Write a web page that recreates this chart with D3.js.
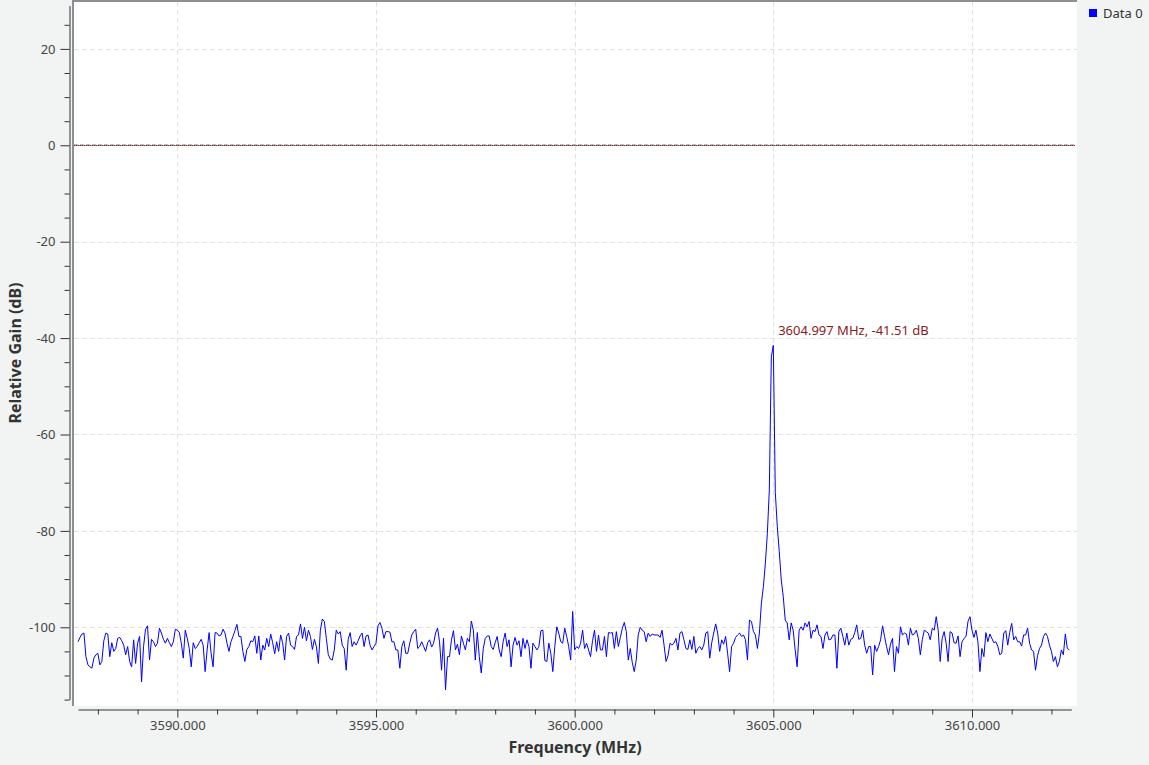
<!DOCTYPE html>
<html><head><meta charset="utf-8">
<script src="https://cdn.jsdelivr.net/npm/d3@7"></script>
<style>
html,body{margin:0;padding:0;background:#f2f4f3;}
svg{display:block;font-family:"Noto Sans","Open Sans",sans-serif;}
</style></head><body>
<svg id="c" width="1149" height="765"></svg>
<script>
// ---- data ----
const freqStart = 3587.5;   // MHz, first bin
const freqStep = 0.05;      // MHz per bin
const gains = [
-103.0,-102.1,-101.4,-101.2,-106.1,-107.8,-108.2,-108.5,-106.4,-105.7,
-105.4,-107.8,-107.1,-102.8,-101.2,-101.4,-106.1,-103.2,-105.0,-104.4,
-102.3,-102.1,-102.8,-103.7,-105.7,-104.0,-107.1,-108.2,-102.6,-107.5,
-103.3,-101.9,-111.3,-104.0,-100.4,-99.7,-106.8,-102.5,-103.0,-104.0,
-103.3,-100.2,-101.2,-102.5,-103.3,-102.3,-103.2,-104.0,-103.0,-100.4,
-100.6,-101.1,-103.3,-106.4,-100.6,-102.3,-104.4,-108.2,-103.2,-104.4,
-104.0,-103.2,-102.5,-103.7,-109.2,-104.7,-101.1,-105.4,-108.2,-101.1,
-101.2,-101.8,-101.6,-100.4,-101.2,-103.3,-105.0,-103.0,-101.9,-100.7,
-99.4,-101.9,-101.9,-105.0,-107.1,-104.6,-104.0,-102.8,-103.0,-101.8,
-105.4,-101.8,-106.8,-103.7,-104.7,-102.3,-104.0,-101.4,-103.2,-105.5,
-103.0,-105.0,-101.6,-103.2,-106.8,-101.9,-101.2,-103.7,-104.0,-104.6,
-101.9,-101.6,-99.3,-102.3,-100.0,-102.8,-100.6,-101.9,-104.6,-102.5,
-104.0,-107.5,-100.6,-98.3,-98.8,-102.3,-105.7,-106.6,-106.8,-104.7,
-100.6,-101.4,-100.9,-103.7,-104.4,-108.9,-102.5,-101.1,-104.0,-103.0,
-103.7,-102.8,-101.8,-101.2,-104.0,-101.8,-101.6,-103.7,-104.7,-104.0,
-103.3,-99.7,-99.0,-100.2,-102.3,-100.9,-100.9,-101.0,-103.0,-103.0,
-104.7,-104.7,-108.5,-104.0,-102.8,-105.4,
-105.4,-103.3,-101.6,-100.9,-100.4,-104.4,-104.0,-103.0,-104.0,-105.0,
-103.2,-102.6,-104.1,-103.3,-101.2,-100.2,-103.0,-108.9,-102.3,-113.0,
-106.1,-106.1,-102.6,-100.7,-104.7,-103.5,-105.7,-101.8,-103.3,-104.7,
-102.3,-103.0,-98.7,-100.6,-106.8,-101.1,-106.1,-109.5,-104.4,-102.3,
-101.8,-101.8,-104.0,-104.6,-103.2,-101.9,-104.7,-106.1,-103.0,-101.2,
-104.0,-102.6,-108.2,-103.7,-102.1,-103.7,-102.8,-106.1,-102.3,-104.4,
-102.6,-104.0,-108.5,-103.3,-104.0,-104.7,-104.0,-100.7,-100.6,-106.9,
-107.1,-103.3,-105.4,-109.2,-104.0,-99.9,-101.2,-103.0,-103.3,-100.2,
-101.9,-104.0,-106.8,-96.7,-104.7,-104.0,-104.4,-103.3,-100.6,-104.4,
-103.3,-104.7,-106.1,-102.8,-100.6,-105.0,-101.6,-104.7,-104.7,-101.9,
-106.1,-101.1,-101.2,-101.1,-104.4,-100.9,-104.0,-102.1,-100.2,-99.0,
-100.9,-106.8,-104.4,-107.3,-109.2,-106.8,-101.6,-100.0,-100.6,-100.9,
-103.0,-101.2,-101.9,-101.4,-101.6,-101.6,-101.6,-102.1,-100.6,-103.7,
-107.1,-105.9,-103.3,-103.7,-103.3,-102.3,-104.7,-101.2,-100.9,-102.6,
-104.4,-104.6,-102.6,-104.6,-101.9,-105.4,-104.4,-104.0,-104.7,-103.7,
-101.2,-100.9,-106.4,-103.2,-101.2,-99.3,-101.2,-105.0,-102.6,-103.5,
-101.9,-105.4,-109.2,-104.0,-103.3,-102.1,-101.6,
-101.2,-101.9,-101.6,-102.6,-106.8,-98.5,-98.8,-100.9,-101.6,-104.4,
-101.2,-95.0,-91.6,-86.7,-80.5,-71.5,-43.9,-41.51,-72.0,-79.1,
-84.3,-90.2,-93.6,-98.5,-99.1,-102.6,-99.1,-100.6,-104.7,-108.2,
-100.6,-99.9,-100.6,-99.1,-99.9,
-98.8,-102.3,-100.6,-100.9,-99.5,-101.6,-101.9,-104.4,-101.6,-100.9,
-102.6,-102.5,-101.6,-101.6,-108.5,-100.9,-100.2,-101.9,-103.7,-101.2,
-103.7,-102.5,-102.3,-101.1,-99.5,-102.5,-102.3,-100.6,-103.7,-105.4,
-104.0,-104.0,-109.9,-103.7,-105.0,-104.0,-102.6,-99.7,-101.9,-104.0,
-105.7,-103.5,-102.3,-109.2,-104.0,-105.4,-99.9,-101.6,-101.2,-101.4,
-103.7,-100.2,-101.6,-101.4,-100.6,-102.3,-105.7,-102.6,-100.6,-100.9,
-101.2,-102.6,-100.2,-100.6,-97.8,-100.6,-107.1,-102.3,-100.9,-103.3,
-107.1,-100.9,-101.2,-103.2,-103.3,-101.8,-106.1,-103.0,-102.3,-101.9,
-98.8,-97.8,-100.6,-102.1,-100.6,-103.0,-109.2,-104.4,-106.1,-101.1,
-103.0,-101.4,-102.3,-103.2,-103.0,-103.9,-105.7,-105.4,-101.2,-100.7,
-103.7,-101.1,-99.2,-102.6,-101.9,-103.0,-103.0,-103.9,-101.6,-101.6,
-100.2,-103.3,-104.7,-105.0,-108.9,-105.9,-104.4,-103.7,-101.9,-101.2,
-101.9,-103.7,-105.0,-107.1,-106.1,-108.2,-107.1,-104.7,-105.7,-101.4,
-104.4,-104.7
];
const xMajorTicks = [3590, 3595, 3600, 3605, 3610];
const xMinorTicks = [3588,3589,3591,3592,3593,3594,3596,3597,3598,3599,3601,3602,3603,3604,3606,3607,3608,3609,3611,3612];
const yMajorTicks = [20, 0, -20, -40, -60, -80, -100];
const yMinorTicks = [25, 15, 10, 5, -5, -10, -15, -25, -30, -35, -45, -50, -55, -65, -70, -75, -85, -90, -95, -105, -110, -115];
const refLevel = 0;
const markerFreq = 3604.997;
const markerGain = -41.51;
const seriesName = "Data 0";
const xTitle = "Frequency (MHz)";
const yTitle = "Relative Gain (dB)";

// ---- chart ----
const svg = d3.select("#c");
const data = gains.map((g, i) => ({f: freqStart + i * freqStep, g}));

const x = d3.scaleLinear().domain([3587.5, 3612.5]).range([78, 1071.3]);
const y = d3.scaleLinear().domain([30, -116]).range([0.7, 704.4]);

const plot = {x0: 74, y0: 2, x1: 1077, y1: 706};

svg.append("rect").attr("x", plot.x0).attr("y", plot.y0)
  .attr("width", plot.x1 - plot.x0).attr("height", plot.y1 - plot.y0).attr("fill", "#fff");
// sunken frame (left + top)
svg.append("rect").attr("x", 72).attr("y", 0).attr("width", 2).attr("height", plot.y1).attr("fill", "#8c9095");
svg.append("rect").attr("x", 72).attr("y", 0).attr("width", plot.x1 - 72).attr("height", 2).attr("fill", "#8c9095");

svg.append("clipPath").attr("id", "clip").append("rect")
  .attr("x", plot.x0).attr("y", plot.y0).attr("width", plot.x1 - plot.x0).attr("height", plot.y1 - plot.y0);

// grid
const grid = svg.append("g").attr("clip-path", "url(#clip)");
grid.selectAll("line.gx").data(xMajorTicks).join("line")
  .attr("x1", d => Math.round(x(d)) + 0.5).attr("x2", d => Math.round(x(d)) + 0.5)
  .attr("y1", plot.y0).attr("y2", plot.y1)
  .attr("stroke", "#e2e2e2").attr("stroke-dasharray", "5,3");
grid.selectAll("line.gy").data(yMajorTicks.filter(d => d !== refLevel)).join("line")
  .attr("y1", d => Math.round(y(d)) + 0.5).attr("y2", d => Math.round(y(d)) + 0.5)
  .attr("x1", plot.x0).attr("x2", plot.x1)
  .attr("stroke", "#e2e2e2").attr("stroke-dasharray", "5,3");

// reference line at 0 dB
const yr = Math.round(y(refLevel));
grid.append("line").attr("x1", plot.x0).attr("x2", plot.x1 - 2).attr("y1", yr - 0.5).attr("y2", yr - 0.5)
  .attr("stroke", "#f2a3a3").attr("stroke-dasharray", "4,2");
grid.append("line").attr("x1", plot.x0).attr("x2", plot.x1 - 2).attr("y1", yr + 0.5).attr("y2", yr + 0.5)
  .attr("stroke", "#20c8c8");
grid.append("line").attr("x1", plot.x0).attr("x2", plot.x1 - 2).attr("y1", yr + 0.5).attr("y2", yr + 0.5)
  .attr("stroke", "#b01010").attr("stroke-dasharray", "1,1");

// series
const line = d3.line().x(d => x(d.f)).y(d => y(d.g)).curve(d3.curveLinear);
svg.append("g").attr("clip-path", "url(#clip)").append("path")
  .datum(data).attr("d", line).attr("fill", "none")
  .attr("stroke", "#0000ff").attr("stroke-width", 1);

// marker label
svg.append("text").attr("x", x(markerFreq) + 5).attr("y", y(markerGain) - 10)
  .attr("fill", "#8b1a1a").attr("font-size", 13)
  .text(`${markerFreq.toFixed(3)} MHz, ${markerGain.toFixed(2)} dB`);

// y axis
const yAxisScale = y.copy().domain([29, -115]).range([y(29), y(-115)]);
const yAx = svg.append("g").attr("transform", "translate(69.5,0)");
yAx.append("g").call(d3.axisLeft(yAxisScale).tickValues(yMajorTicks).tickSize(9).tickSizeOuter(0)
  .tickFormat(d => String(d)))
  .call(g => g.selectAll("text").attr("font-size", 13).attr("fill", "#444").attr("x", -14)
    .attr("font-family", "'Noto Sans','Open Sans',sans-serif"))
  .call(g => g.selectAll("line, path").attr("stroke", "#333"));
yAx.append("g").call(d3.axisLeft(yAxisScale).tickValues(yMinorTicks).tickSize(5).tickSizeOuter(0).tickFormat(""))
  .call(g => g.select("path").remove())
  .call(g => g.selectAll("line").attr("stroke", "#333"));

// x axis
const xAx = svg.append("g").attr("transform", "translate(0,709.5)");
xAx.append("g").call(d3.axisBottom(x).tickValues(xMajorTicks).tickSize(8).tickSizeOuter(0)
  .tickFormat(d => d.toFixed(3)))
  .call(g => g.selectAll("text").attr("font-size", 13).attr("fill", "#444").attr("y", 11)
    .attr("font-family", "'Noto Sans','Open Sans',sans-serif"))
  .call(g => g.selectAll("line, path").attr("stroke", "#333"));
xAx.append("g").call(d3.axisBottom(x).tickValues(xMinorTicks).tickSize(5).tickSizeOuter(0).tickFormat(""))
  .call(g => g.select("path").remove())
  .call(g => g.selectAll("line").attr("stroke", "#333"));

// axis titles
svg.append("text").attr("x", 575).attr("y", 753).attr("text-anchor", "middle")
  .attr("font-size", 16).attr("font-weight", "bold").attr("fill", "#333").text(xTitle);
svg.append("text").attr("transform", "translate(21,353) rotate(-90)").attr("text-anchor", "middle")
  .attr("font-size", 16).attr("font-weight", "bold").attr("fill", "#333").text(yTitle);

// legend
svg.append("rect").attr("x", 1089).attr("y", 9).attr("width", 8).attr("height", 8).attr("fill", "#0000ff");
svg.append("text").attr("x", 1103).attr("y", 18).attr("font-size", 13).attr("fill", "#333").text(seriesName);
</script>
</body></html>
